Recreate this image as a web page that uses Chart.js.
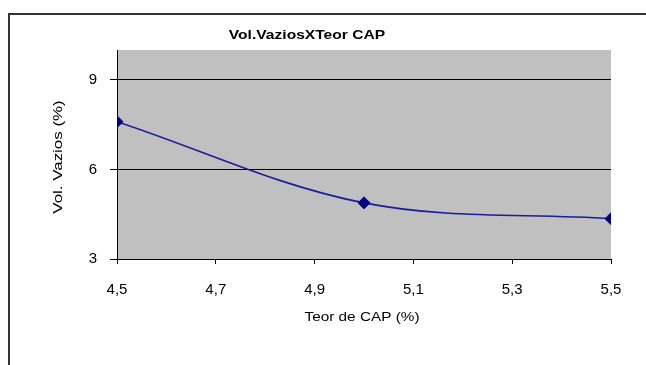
<!DOCTYPE html>
<html><head><meta charset="utf-8">
<script src="https://cdn.jsdelivr.net/npm/chart.js@4"></script>
<style>html,body{margin:0;padding:0;background:#fff;overflow:hidden}#w{width:646px;height:365px}</style>
</head><body><div id="w"><canvas id="c" width="646" height="365"></canvas></div>
<script>
const teorCAP = [4.5, 5.0, 5.5];
const volVazios = [7.6, 4.88, 4.35];
const xTickValues = [4.5, 4.7, 4.9, 5.1, 5.3, 5.5];
const yTickValues = [3, 6, 9];
const chartTitle = 'Vol.VaziosXTeor CAP';
const xTitle = 'Teor de CAP (%)';
const yTitle = 'Vol. Vazios (%)';

const FONT = '"Liberation Sans", Arial, sans-serif';

function stretchedText(ctx, text, x, y, font, sx, rot) {
  ctx.save();
  ctx.translate(x, y);
  if (rot) ctx.rotate(rot);
  ctx.scale(sx, 1);
  ctx.font = font;
  ctx.fillStyle = '#000';
  ctx.textAlign = 'center';
  ctx.textBaseline = 'middle';
  ctx.fillText(text, 0, 0);
  ctx.restore();
}

const decor = {
  id: 'decor',
  beforeDraw(chart) {
    const ctx = chart.ctx, a = chart.chartArea;
    ctx.save();
    ctx.fillStyle = '#ffffff';
    ctx.fillRect(0, 0, chart.width, chart.height);
    ctx.fillStyle = '#c0c0c0';
    ctx.fillRect(a.left, a.top, a.right - a.left, a.bottom - a.top);
    ctx.restore();
  },
  afterDraw(chart) {
    const ctx = chart.ctx, a = chart.chartArea;
    ctx.save();
    ctx.strokeStyle = '#333333';
    ctx.lineWidth = 2;
    ctx.beginPath();
    ctx.moveTo(9, chart.height + 5);
    ctx.lineTo(9, 14);
    ctx.lineTo(chart.width + 5, 14);
    ctx.stroke();
    ctx.restore();
    stretchedText(ctx, chartTitle, 307, 35, 'bold 13px ' + FONT, 1.2, 0);
    stretchedText(ctx, xTitle, (a.left + a.right) / 2 - 2, 317, '13px ' + FONT, 1.18, 0);
    stretchedText(ctx, yTitle, 58, 157, '13px ' + FONT, 1.3, -Math.PI / 2);
  }
};

new Chart(document.getElementById('c'), {
  type: 'scatter',
  data: {
    datasets: [{
      data: teorCAP.map((x, i) => ({ x: x, y: volVazios[i] })),
      showLine: true,
      borderColor: '#1c1c9a',
      borderWidth: 1.6,
      tension: 0.35,
      pointStyle: 'rectRot',
      pointRadius: 6,
      pointHoverRadius: 6,
      pointBackgroundColor: '#000080',
      pointBorderColor: '#000080',
      pointBorderWidth: 1
    }]
  },
  options: {
    responsive: false,
    animation: false,
    devicePixelRatio: 1,
    layout: { padding: { left: 54, top: 50, right: 35, bottom: 0 } },
    plugins: { legend: { display: false }, tooltip: { enabled: false }, title: { display: false } },
    scales: {
      x: {
        type: 'linear',
        min: 4.5, max: 5.5,
        afterFit(s) { s.height = 365 - 259; },
        afterBuildTicks(s) { s.ticks = xTickValues.map(v => ({ value: v })); },
        ticks: {
          color: '#000', padding: 17,
          font: { family: FONT, size: 15 },
          callback: v => Number(v).toFixed(1).replace('.', ',')
        },
        grid: { drawOnChartArea: false, drawTicks: true, tickLength: 5, tickColor: '#000', tickWidth: 1 },
        border: { display: true, color: '#000', width: 1 }
      },
      y: {
        type: 'linear',
        min: 3, max: 10,
        afterFit(s) { s.width = 117 - 54; },
        afterBuildTicks(s) { s.ticks = yTickValues.map(v => ({ value: v })); },
        ticks: {
          color: '#000', padding: 13,
          font: { family: FONT, size: 15 },
          callback: v => String(v)
        },
        grid: {
          color: ctx => (ctx.tick && ctx.tick.value !== 3) ? '#000' : 'rgba(0,0,0,0)',
          lineWidth: 1,
          drawTicks: true, tickLength: 7, tickColor: '#000', tickWidth: 1
        },
        border: { display: true, color: '#000', width: 1 }
      }
    }
  },
  plugins: [decor]
});
</script>
</body></html>
